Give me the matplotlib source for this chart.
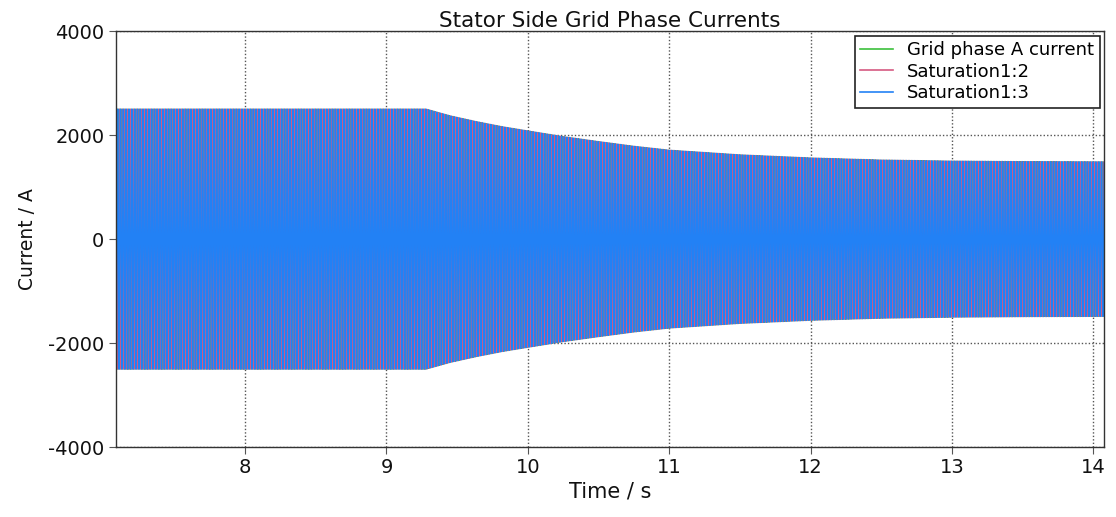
import numpy as np
import matplotlib
matplotlib.use("Agg")
import matplotlib.pyplot as plt

plt.rcParams["axes.unicode_minus"] = False

# Envelope of the stator current amplitude (A) at selected times (s)
env_time = [7.05, 9.28, 9.45, 9.64, 9.82, 10.0, 10.25, 10.5, 10.75, 11.0,
            11.5, 12.0, 12.5, 13.0, 13.5, 14.08]
env_amp = [2500, 2500, 2370, 2256, 2160, 2080, 1970, 1875, 1785, 1710,
           1620, 1560, 1520, 1500, 1490, 1485]

grid_freq = 50.0          # Hz
sample_rate = 5000.0      # samples per second
phase_shift_deg = [0, -120, 120]

series_labels = ["Grid phase A current", "Saturation1:2", "Saturation1:3"]
series_colors = ["#3cc03c", "#d65a82", "#2281f5"]
series_widths = [0.8, 1.0, 1.05]

x_ticks = [8, 9, 10, 11, 12, 13, 14]
y_ticks = [-4000, -2000, 0, 2000, 4000]

t = np.arange(env_time[0], env_time[-1], 1.0 / sample_rate)
amp = np.interp(t, env_time, env_amp)

fig = plt.figure(figsize=(11.16, 5.17), dpi=100)
ax = fig.add_axes([0.1035, 0.135, 0.886, 0.805])

for lab, col, lw, ph in zip(series_labels, series_colors, series_widths,
                            phase_shift_deg):
    i = amp * np.sin(2 * np.pi * grid_freq * t + np.deg2rad(ph))
    ax.plot(t, i, color=col, lw=lw, label=lab, zorder=2)

ax.set_xlim(7.083, 14.078)
ax.set_ylim(-4000, 4000)
ax.set_xticks(x_ticks)
ax.set_yticks(y_ticks)
ax.grid(True, color="#555555", linestyle=(0, (1, 1.5)), linewidth=1.0, zorder=0)
ax.set_axisbelow(True)

for s in ax.spines.values():
    s.set_color("#333333")
    s.set_linewidth(1.0)
ax.tick_params(direction="out", length=5, color="#555555", labelsize=14,
               labelcolor="#111111", pad=3)

ax.set_title("Stator Side Grid Phase Currents", fontsize=15.5, pad=3,
             color="#111111")
ax.set_xlabel("Time / s", fontsize=15, labelpad=3, color="#111111")
ax.set_ylabel("Current / A", fontsize=13.5, labelpad=8, color="#111111")

leg = ax.legend(loc="upper right", fontsize=13, frameon=True, fancybox=False,
                framealpha=1, edgecolor="#222222", borderpad=0.3,
                handlelength=1.8, labelspacing=0.2, borderaxespad=0.25)
leg.get_frame().set_linewidth(1.2)
for ln in leg.get_lines():
    ln.set_linewidth(1.2)

fig.savefig("out.png", dpi=100)
